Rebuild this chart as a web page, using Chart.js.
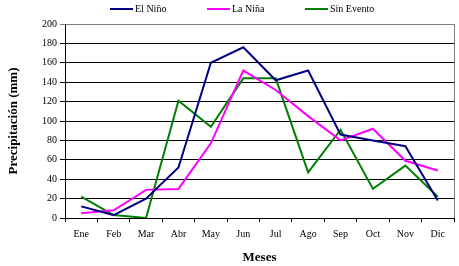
<!DOCTYPE html>
<html>
<head>
<meta charset="utf-8">
<script src="https://cdn.jsdelivr.net/npm/chart.js@4.4.1/dist/chart.umd.min.js"></script>
<style>
  html, body { margin: 0; padding: 0; background: #fff; }
  #wrap { width: 459px; height: 266px; }
</style>
</head>
<body>
<div id="wrap"><canvas id="lluvia"></canvas></div>
<script>
const meses = ['Ene', 'Feb', 'Mar', 'Abr', 'May', 'Jun', 'Jul', 'Ago', 'Sep', 'Oct', 'Nov', 'Dic'];
const elNino = [12, 3, 20, 52, 160, 176, 142, 152, 86, 80, 74, 18];
const laNina = [5, 8, 29, 30, 77, 152, 132, 105, 80, 92, 59, 49];
const sinEvento = [22, 3, 0, 121, 94, 144, 144, 47, 91, 30, 54, 22];

const serif = '"Liberation Serif", "Times New Roman", serif';

// leyenda arriba, con una línea corta por serie
const leyenda = {
    id: 'leyenda',
    afterDraw(chart) {
        const c = chart.ctx;
        const starts = [110, 207, 305];
        c.save();
        c.font = '10px ' + serif;
        c.textBaseline = 'middle';
        chart.data.datasets.forEach((ds, i) => {
            const x = starts[i];
            c.strokeStyle = ds.borderColor;
            c.lineWidth = 2;
            c.beginPath();
            c.moveTo(x, 9);
            c.lineTo(x + 23, 9);
            c.stroke();
            c.fillStyle = '#000';
            c.fillText(ds.label, x + 25, 9);
        });
        c.restore();
    }
};

// borde derecho gris del área de trazado
const marco = {
    id: 'marco',
    afterDraw(chart) {
        const a = chart.chartArea;
        const c = chart.ctx;
        c.save();
        c.strokeStyle = '#808080';
        c.lineWidth = 1;
        c.beginPath();
        c.moveTo(a.right + 0.5, a.top);
        c.lineTo(a.right + 0.5, a.bottom);
        c.stroke();
        c.restore();
    }
};

new Chart(document.getElementById('lluvia'), {
    type: 'line',
    data: {
        labels: meses,
        datasets: [
            { label: 'El Niño', data: elNino, borderColor: '#000080', backgroundColor: '#000080' },
            { label: 'La Niña', data: laNina, borderColor: '#FF00FF', backgroundColor: '#FF00FF' },
            { label: 'Sin Evento', data: sinEvento, borderColor: '#008000', backgroundColor: '#008000' }
        ]
    },
    options: {
        responsive: true,
        maintainAspectRatio: false,
        animation: false,
        elements: {
            line: { borderWidth: 2, tension: 0 },
            point: { radius: 0, hoverRadius: 0 }
        },
        layout: { padding: { top: 24, right: 5, left: 0, bottom: 0 } },
        plugins: {
            legend: { display: false },
            tooltip: { enabled: false }
        },
        scales: {
            x: {
                offset: true,
                afterFit(s) { s.height = 48; },
                grid: { offset: true, drawOnChartArea: false, color: '#000', tickLength: 4 },
                border: { color: '#000' },
                ticks: { color: '#000', padding: 6, maxRotation: 0, font: { family: serif, size: 10 } },
                title: {
                    display: true,
                    text: 'Meses',
                    color: '#000',
                    padding: { top: 0, bottom: 1 },
                    font: { family: serif, size: 13, weight: 'bold' }
                }
            },
            y: {
                min: 0,
                max: 200,
                afterFit(s) { s.width = 65; },
                grid: {
                    color: (ctx) => (ctx.tick && ctx.tick.value === 200 ? '#808080' : '#000'),
                    tickLength: 5
                },
                border: { color: '#000' },
                ticks: { stepSize: 20, color: '#000', padding: 3, font: { family: serif, size: 10 } },
                title: {
                    display: true,
                    text: 'Precipitación (mm)',
                    color: '#000',
                    padding: { top: 6, bottom: 0 },
                    font: { family: serif, size: 13, weight: 'bold' }
                }
            }
        }
    },
    plugins: [leyenda, marco]
});
</script>
</body>
</html>
